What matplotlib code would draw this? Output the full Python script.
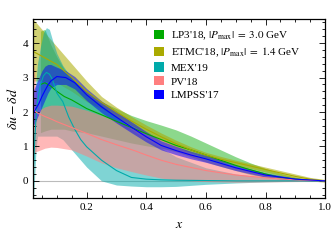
import numpy as np
import matplotlib
matplotlib.use('Agg')
import matplotlib.pyplot as plt
from matplotlib.patches import Patch

plt.rcParams['font.family'] = ['Liberation Serif', 'DejaVu Serif']
plt.rcParams['mathtext.fontset'] = 'stix'

# LP3'18, |Pmax| = 3.0 GeV
lp3_x = [0.045, 0.06, 0.08, 0.1, 0.125, 0.15, 0.2, 0.25, 0.3, 0.35, 0.4, 0.45, 0.5, 0.55, 0.6, 0.65, 0.7, 0.75, 0.8, 0.85, 0.9, 0.95, 1.0]
lp3_hi = [4.35, 4.4, 3.95, 3.6, 3.24, 3.0, 2.6, 2.3, 2.1, 1.9, 1.75, 1.62, 1.48, 1.3, 1.1, 0.9, 0.7, 0.52, 0.36, 0.22, 0.11, 0.04, 0.01]
lp3_lo = [1.4, 1.45, 1.5, 1.5, 1.5, 1.45, 1.4, 1.3, 1.2, 1.1, 1.02, 0.95, 0.85, 0.7, 0.55, 0.42, 0.3, 0.18, 0.1, 0.05, 0.02, 0.0, 0.0]
lp3_mid = [2.8, 2.85, 2.75, 2.6, 2.45, 2.35, 2.1, 1.92, 1.73, 1.55, 1.37, 1.2, 1.03, 0.9, 0.75, 0.6, 0.45, 0.32, 0.2, 0.1, 0.05, 0.02, 0.0]

# ETMC'18, |Pmax| = 1.4 GeV
etmc_x = [0.02, 0.05, 0.1, 0.15, 0.2, 0.25, 0.3, 0.35, 0.4, 0.45, 0.5, 0.55, 0.6, 0.65, 0.7, 0.75, 0.8, 0.85, 0.9, 0.95, 1.0]
etmc_mid = [3.76, 3.62, 3.38, 3.0, 2.6, 2.28, 2.0, 1.74, 1.5, 1.28, 1.08, 0.9, 0.75, 0.63, 0.53, 0.43, 0.33, 0.23, 0.13, 0.05, 0.0]
etmc_hi = [4.7, 4.4, 3.9, 3.4, 2.9, 2.45, 2.14, 1.87, 1.62, 1.39, 1.18, 0.99, 0.83, 0.71, 0.6, 0.5, 0.4, 0.3, 0.2, 0.1, 0.04]
etmc_lo = [2.9, 2.9, 2.85, 2.6, 2.3, 2.1, 1.86, 1.61, 1.38, 1.17, 0.98, 0.81, 0.67, 0.55, 0.46, 0.36, 0.26, 0.16, 0.07, 0.0, -0.04]

# MEX'19
mex_x = [0.022, 0.026, 0.03, 0.035, 0.045, 0.055, 0.065, 0.075, 0.085, 0.1, 0.12, 0.14, 0.16, 0.18, 0.2, 0.25, 0.3, 0.35, 0.4, 0.45, 0.5, 0.6, 0.7, 0.8, 0.9, 1.0]
mex_hi = [1.8, 2.4, 2.9, 3.4, 3.9, 4.3, 4.45, 4.4, 4.1, 3.7, 3.35, 3.1, 2.9, 2.7, 2.5, 2.2, 1.85, 1.5, 1.2, 0.95, 0.7, 0.38, 0.2, 0.1, 0.04, 0.01]
mex_lo = [-0.6, 0.2, 0.9, 1.3, 1.3, 1.3, 1.3, 1.3, 1.3, 1.3, 1.2, 1.0, 0.8, 0.6, 0.4, 0.0, -0.12, -0.15, -0.17, -0.17, -0.16, -0.1, -0.06, -0.03, -0.01, 0.0]
mex_mid = [0.5, 1.2, 1.8, 2.3, 2.8, 3.05, 3.15, 3.1, 2.95, 2.55, 2.3, 1.85, 1.5, 1.2, 0.99, 0.6, 0.3, 0.1, 0.05, 0.03, 0.02, 0.01, 0.0, 0.0, 0.0, 0.0]

# PV'18
pv_x = [0.02, 0.025, 0.03, 0.04, 0.06, 0.08, 0.1, 0.15, 0.2, 0.25, 0.3, 0.36, 0.4, 0.45, 0.5, 0.6, 0.7, 0.8, 0.9, 1.0]
pv_mid = [2.1, 2.05, 2.0, 1.95, 1.87, 1.8, 1.72, 1.55, 1.38, 1.2, 1.05, 0.88, 0.75, 0.6, 0.48, 0.3, 0.17, 0.09, 0.03, 0.0]
pv_hi = [3.6, 3.1, 2.6, 2.05, 2.15, 2.2, 2.2, 2.17, 2.05, 1.9, 1.75, 1.55, 1.4, 1.2, 1.0, 0.62, 0.38, 0.2, 0.08, 0.02]
pv_lo = [0.8, 0.82, 0.85, 0.88, 0.95, 0.98, 0.97, 0.9, 0.72, 0.52, 0.38, 0.25, 0.17, 0.08, 0.03, -0.02, -0.04, -0.03, -0.02, -0.01]

# LMPSS'17
lmpss_x = [0.02, 0.03, 0.04, 0.05, 0.06, 0.07, 0.08, 0.1, 0.13, 0.16, 0.2, 0.25, 0.3, 0.35, 0.4, 0.45, 0.5, 0.55, 0.6, 0.7, 0.8, 0.9, 1.0]
lmpss_mid = [1.95, 2.1, 2.25, 2.45, 2.62, 2.78, 2.9, 3.03, 3.0, 2.85, 2.5, 2.15, 1.85, 1.56, 1.28, 1.03, 0.88, 0.75, 0.64, 0.38, 0.17, 0.05, 0.0]
lmpss_hi = [2.6, 2.8, 3.0, 3.2, 3.33, 3.38, 3.38, 3.3, 3.2, 3.03, 2.68, 2.32, 2.02, 1.72, 1.43, 1.16, 1.0, 0.86, 0.74, 0.46, 0.23, 0.08, 0.01]
lmpss_lo = [1.6, 1.75, 1.95, 2.15, 2.35, 2.55, 2.7, 2.8, 2.8, 2.67, 2.33, 1.98, 1.68, 1.4, 1.13, 0.9, 0.76, 0.64, 0.54, 0.3, 0.11, 0.02, -0.01]

series = [
    ("LP3'18, $|P_{\\mathrm{max}}|\\;=\\;3.0$ GeV", '#00aa00', lp3_x, lp3_lo, lp3_hi, lp3_mid, 0.45),
    ("ETMC'18, $|P_{\\mathrm{max}}|\\;=\\;1.4$ GeV", '#aaaa00', etmc_x, etmc_lo, etmc_hi, etmc_mid, 0.55),
    ("MEX'19", '#00aaaa', mex_x, mex_lo, mex_hi, mex_mid, 0.5),
    ("PV'18", '#ff7f7f', pv_x, pv_lo, pv_hi, pv_mid, 0.55),
    ("LMPSS'17", '#0000ff', lmpss_x, lmpss_lo, lmpss_hi, lmpss_mid, 0.5),
]

fig = plt.figure(figsize=(3.32, 2.41), dpi=100)
ax = fig.add_axes([0.0994, 0.178, 0.880, 0.743])

ax.axhline(0, color='#bbbbbb', lw=0.8, zorder=0)

handles = []
for label, col, xs, lo, hi, mid, a in series:
    ax.fill_between(xs, lo, hi, color=col, alpha=a, lw=0)
    ax.plot(xs, mid, color=col, lw=0.8)
    handles.append(Patch(facecolor=col, edgecolor='none', label=label))

ax.set_xlim(0.02, 1.0)
ax.set_ylim(-0.5, 4.7)
ax.set_xticks([0.2, 0.4, 0.6, 0.8, 1.0])
ax.set_xticklabels(['0.2', '0.4', '0.6', '0.8', '1.0'])
ax.set_yticks([0, 1, 2, 3, 4])
ax.set_xticks(np.arange(0.05, 1.0, 0.05), minor=True)
ax.set_yticks(np.arange(-0.4, 4.7, 0.2), minor=True)
ax.tick_params(which='both', direction='in', top=True, right=True, labelsize=8, width=0.6)
ax.tick_params(which='major', length=4)
ax.tick_params(which='minor', length=2)
for s in ax.spines.values():
    s.set_linewidth(0.9)

ax.set_xlabel('$x$', fontsize=10, labelpad=4)
ax.set_ylabel('$\\delta u - \\delta d$', fontsize=10, labelpad=2)

ax.legend(handles=handles, loc='upper left', frameon=False, fontsize=8,
          handlelength=0.9, handleheight=0.9, handletextpad=0.6,
          labelspacing=0.3, borderaxespad=0.0, borderpad=0.0,
          bbox_to_anchor=(0.414, 0.94))

fig.savefig('out.png', dpi=100)
